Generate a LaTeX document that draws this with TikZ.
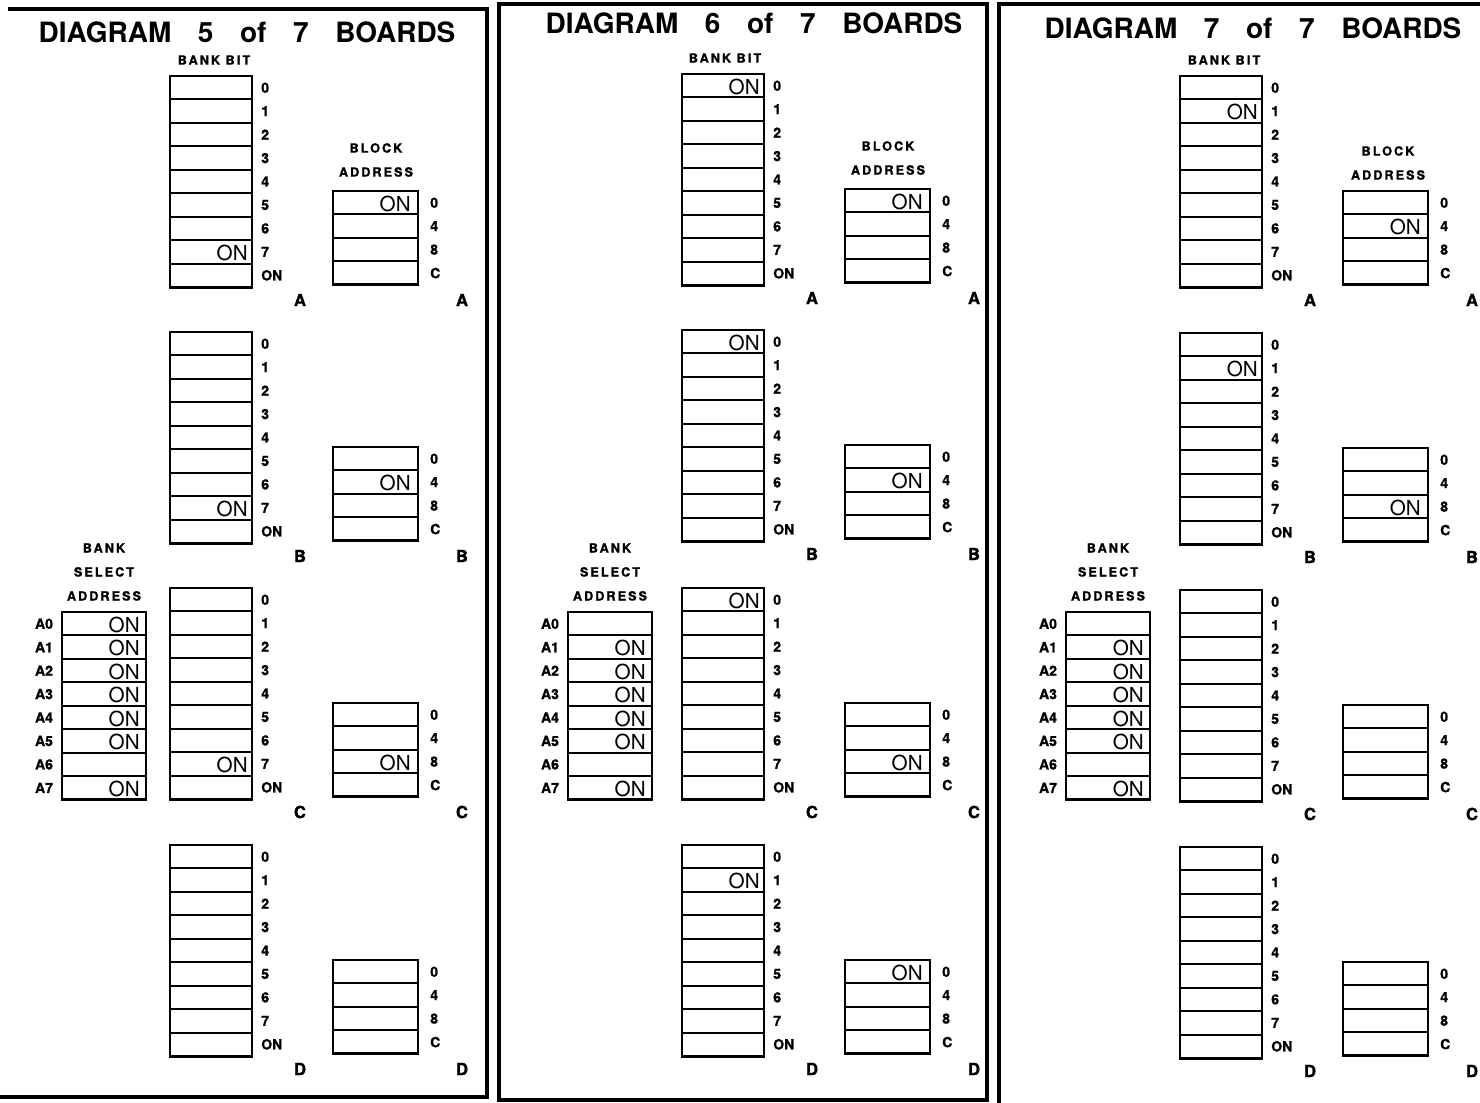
\documentclass[tikz,border=0pt]{standalone}
\usepackage{fontspec}
\setmainfont{TeX Gyre Heros}
\newfontfamily\tagfamily[LetterSpace=16,BoldFeatures={FakeBold=1.2}]{TeX Gyre Heros}
\newfontfamily\heavyfamily[BoldFeatures={FakeBold=1.2}]{TeX Gyre Heros}
\usepackage{tikz}

\newcommand{\titlefont}{\fontsize{21}{21}\selectfont\bfseries}
\newcommand{\onfont}{\fontsize{15.5}{15.5}\selectfont}
\newcommand{\tagfont}{\tagfamily\fontsize{9.5}{18}\selectfont\bfseries}
\newcommand{\pinfont}{\heavyfamily\fontsize{10.5}{10.5}\selectfont\bfseries}
\newcommand{\letterfont}{\heavyfamily\fontsize{12.5}{12.5}\selectfont\bfseries}
\newcommand{\gap}{\hspace{0.95em}}
\newcommand{\rowh}{23.45}

\tikzset{
  panelline/.style={line width=3pt},
  switchbox/.style={line width=2.2pt},
  switchrow/.style={line width=1.5pt},
  titlelbl/.style={font=\titlefont, inner sep=0pt, anchor=base},
  taglbl/.style={font=\tagfont, inner sep=0pt, align=center},
  pinlbl/.style={font=\pinfont, inner sep=0pt, anchor=west},
  onmark/.style={font=\onfont, inner sep=0pt, anchor=east},
  letterlbl/.style={font=\letterfont, inner sep=0pt}
}

% a stack of switch rows: left, top, rows, width
\newcommand{\dipstack}[4]{%
  \draw[switchbox] (#1,#2) rectangle ++(#4,#3*\rowh);
  \pgfmathtruncatemacro{\lastrow}{#3-1}
  \foreach \r in {1,...,\lastrow}
    \draw[switchrow] (#1,#2+\r*\rowh) -- ++(#4,0);
}

% bank bit switch: top, row set ON (-1 = none), letter
\newcommand{\bankbit}[3]{%
  \dipstack{170}{#1}{9}{82}
  \foreach \pin [count=\i from 0] in {0,...,7,ON}
    \node[pinlbl] (\brd-bit#3-\i) at (261,#1+\i*\rowh+0.5*\rowh) {\pin};
  \ifnum#2>-1 \node[onmark] (\brd-biton#3) at (248,#1+#2*\rowh+0.5*\rowh+1) {ON};\fi
  \node[letterlbl] (\brd-bitlet#3) at (300,#1+224) {#3};
}

% block address switch: top of bank bit, row set ON, letter
\newcommand{\blockaddr}[3]{%
  \dipstack{333}{#1+115}{4}{85}
  \foreach \pin [count=\i from 0] in {0,4,8,C}
    \node[pinlbl] (\brd-blk#3-\i) at (430,#1+115+\i*\rowh+0.5*\rowh) {\pin};
  \ifnum#2>-1 \node[onmark] (\brd-blkon#3) at (411,#1+115+#2*\rowh+0.5*\rowh+1) {ON};\fi
  \node[letterlbl] (\brd-blklet#3) at (462,#1+224) {#3};
}

% bank select address switch: left, rows set ON
\newcommand{\bankselect}[2]{%
  \node[taglbl] (\brd-seltag) at (#1+42,572) {BANK\\SELECT\\ADDRESS};
  \dipstack{#1}{612}{8}{84}
  \foreach \i in {0,...,7}
    \node[pinlbl, anchor=center] (\brd-sel\i) at (#1-18,612+\i*\rowh+0.5*\rowh) {A\i};
  \foreach \i in {#2}
    \node[onmark] (\brd-selon\i) at (#1+78,612+\i*\rowh+0.5*\rowh+1) {ON};
}

\begin{document}
\begin{tikzpicture}[x=0.75pt,y=0.75pt,yscale=-1,xscale=1]
\useasboundingbox (0,0) rectangle (1480,1102);
\clip (0,0) rectangle (1480,1102);

% frames
\draw[panelline] (8,9) -- (487,9) -- (487,1097) -- (-5,1097);
\draw[panelline] (499,4) rectangle (987,1100);
\draw[panelline] (999,1110) -- (999,4) -- (1490,4);

% titles
\node[titlelbl] (title5) at (247,43) {DIAGRAM\gap 5\gap of\gap 7\gap BOARDS};
\node[titlelbl] (title6) at (754,34) {DIAGRAM\gap 6\gap of\gap 7\gap BOARDS};
\node[titlelbl] (title7) at (1253,39) {DIAGRAM\gap 7\gap of\gap 7\gap BOARDS};

% board 5
\begin{scope}
\def\brd{5}
\node[taglbl] (5-bittag) at (214,60) {BANK BIT};
\node[taglbl] (5-blktag) at (376,160) {BLOCK\\ADDRESS};
\bankbit{76}{7}{A}
\blockaddr{76}{0}{A}
\bankbit{332}{7}{B}
\blockaddr{332}{1}{B}
\bankbit{588}{7}{C}
\blockaddr{588}{2}{C}
\bankbit{845}{-1}{D}
\blockaddr{845}{-1}{D}
\bankselect{62}{0,1,2,3,4,5,7}
\end{scope}

% board 6
\begin{scope}[shift={(512,0)}]
\def\brd{6}
\node[taglbl] (6-bittag) at (213,58) {BANK BIT};
\node[taglbl] (6-blktag) at (376,158) {BLOCK\\ADDRESS};
\bankbit{74}{0}{A}
\blockaddr{74}{0}{A}
\bankbit{330}{0}{B}
\blockaddr{330}{1}{B}
\bankbit{588}{0}{C}
\blockaddr{588}{2}{C}
\bankbit{845}{1}{D}
\blockaddr{845}{0}{D}
\bankselect{56}{1,2,3,4,5,7}
\end{scope}

% board 7
\begin{scope}[shift={(1010,0)}]
\def\brd{7}
\node[taglbl] (7-bittag) at (214,60) {BANK BIT};
\node[taglbl] (7-blktag) at (378,163) {BLOCK\\ADDRESS};
\bankbit{76}{1}{A}
\blockaddr{76}{1}{A}
\bankbit{333}{1}{B}
\blockaddr{333}{2}{B}
\bankbit{590}{-1}{C}
\blockaddr{590}{-1}{C}
\bankbit{847}{-1}{D}
\blockaddr{847}{-1}{D}
\bankselect{56}{1,2,3,4,5,7}
\end{scope}
\end{tikzpicture}
\end{document}
